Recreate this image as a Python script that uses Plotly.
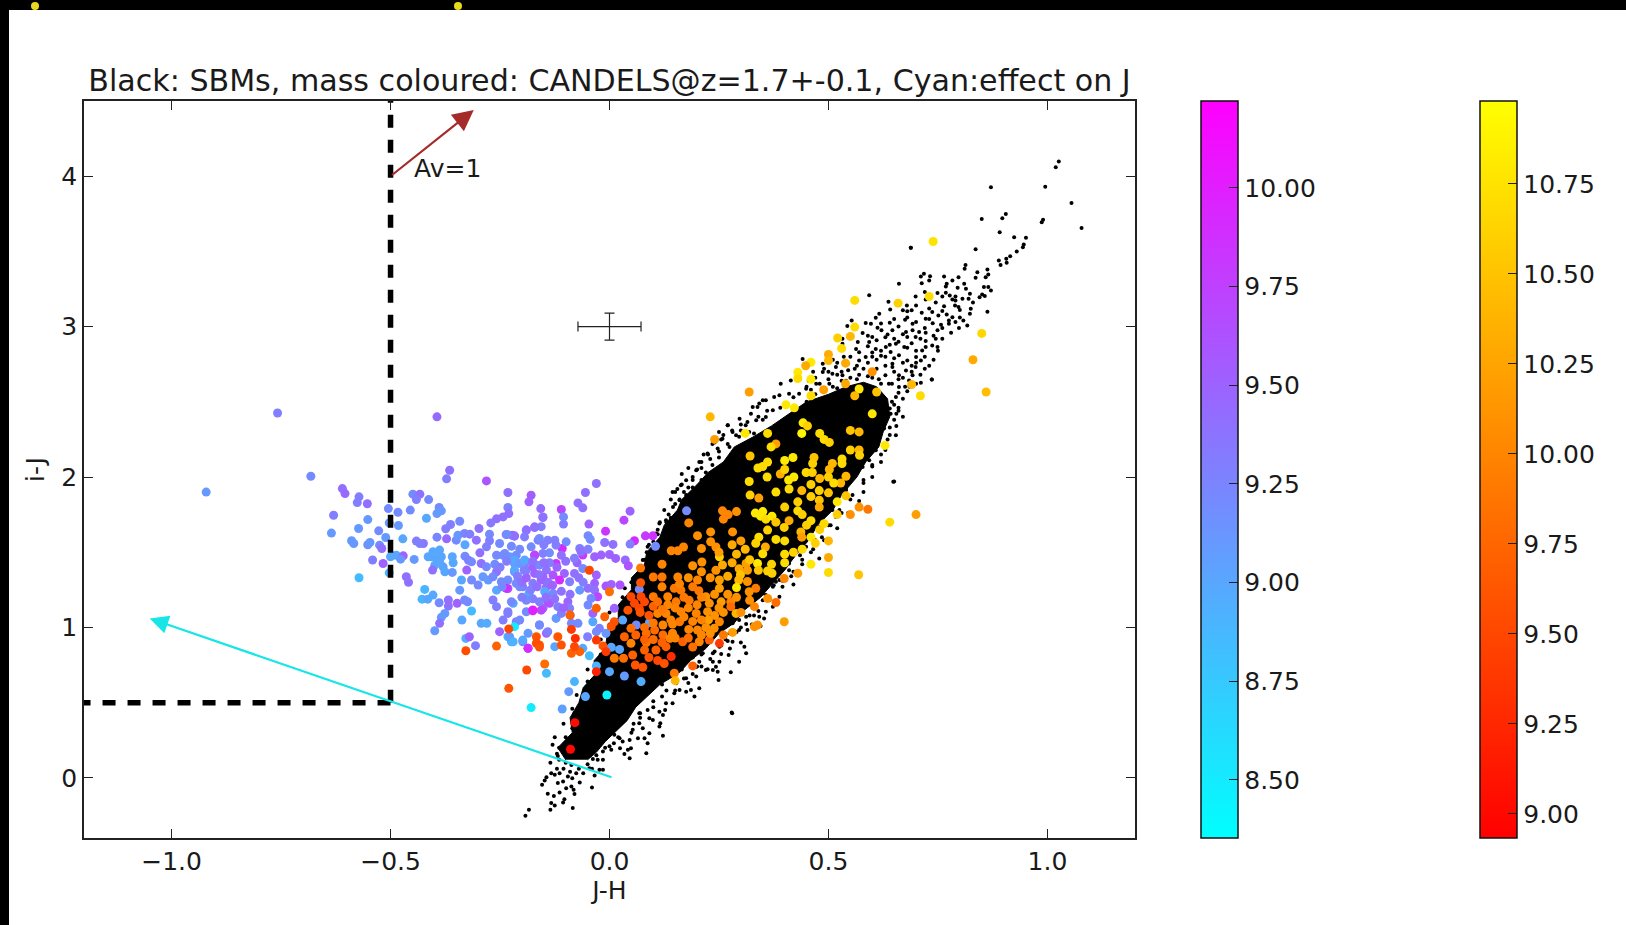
import plotly.graph_objects as go

# Solid, fully overplotted core of the SBM cloud (J-H, i-J)
core_x = [-.10,-.118,-.085,-.09,-.07,-.06,-.035,-.035,-.01,-.005,.02,.02,.05,.05,.08,.085,.115,.125,.155,.165,.2,.225,.26,.285,.33,.37,.41,.45,.50,.54,.58,.61,.635,.64,.625,.615,.585,.565,.53,.51,.475,.455,.425,.40,.375,.345,.31,.285,.25,.22,.185,.16,.115,.085,.06,.04,.01,-.01,-.03,-.05]
core_y = [.12,.2,.3,.4,.5,.6,.68,.78,.86,.95,1.05,1.15,1.25,1.33,1.42,1.5,1.6,1.68,1.78,1.85,1.95,2.03,2.1,2.2,2.27,2.34,2.42,2.5,2.55,2.60,2.63,2.60,2.52,2.40,2.3,2.2,2.1,2.0,1.88,1.78,1.68,1.58,1.48,1.38,1.30,1.2,1.12,1.03,.96,.86,.78,.7,.62,.54,.47,.38,.30,.24,.17,.12]

# Individually visible SBM points
sbm_tail = [(1.026,4.097),(1.019,4.059),(.871,3.926),(.995,3.93),(1.055,3.822),(1.078,3.656),(.905,3.749),(.897,3.72),(.85,3.716),(.99,3.71),(.987,3.694),(.891,3.628),(.924,3.594),(.951,3.59),(.946,3.546),(.944,3.528),(.93,3.50),(.836,3.515),(.915,3.468),(.906,3.451),(.889,3.44),(.907,3.425),(.893,3.41),(.688,3.524),(.813,3.41),(.811,3.384),(.863,3.38),(.84,3.362),(.865,3.347),(.859,3.329),(.836,3.325),(.764,3.333),(.797,3.329),(.783,3.306),(.718,3.351),(.711,3.333),(.732,3.335),(.73,3.307),(.713,3.289),(.77,3.285),(.768,3.267),(.81,3.285),(.661,3.285),(.855,3.263),(.865,3.263),(.871,3.24),(.768,3.225),(.795,3.258),(.814,3.251),(.593,3.209),(.699,3.20),(.851,3.214),(.845,3.196),(.857,3.203),(.823,3.218),(.82,3.185),(.777,3.207),(.783,3.181),(.637,3.165),(.722,3.181),(.749,3.223),(.806,3.185),(.79,3.174),(.789,3.141),(.797,3.13),(.679,3.141),(.641,3.114),(.67,3.108),(.68,3.102),(.69,3.108),(.713,3.092),(.764,3.135),(.737,3.097),(.76,3.103),(.751,3.074),(.825,3.119),(.823,3.085),(.863,3.099),(.616,3.085),(.608,3.059),(.553,3.041),(.722,3.052),(.783,3.063),(.775,3.041),(.79,3.03),(.808,3.041),(.64,3.026),(.675,3.045),(.692,3.019),(.543,3.004),(.585,3.024),(.597,3.019),(.612,2.993),(.621,2.975),(.738,3.023),(.757,3.012),(.749,2.975),(.775,3.019),(.817,3.008),(.798,2.99),(.646,2.975),(.635,2.948),(.677,2.964),(.692,2.975),(.707,2.964),(.722,2.96),(.578,2.957),(.6,2.931),(.68,2.931),(.699,2.931),(.745,2.919),(.532,2.919),(.567,2.897),(.593,2.897),(.631,2.864),(.654,2.886),(.673,2.864),(.722,2.904),(.737,2.875),(.532,2.886),(.563,2.851),(.608,2.851),(.642,2.831),(.714,2.842),(.722,2.864),(.749,2.864),(.6,2.828),(.62,2.806),(.661,2.809),(.7,2.798),(.711,2.775),(.585,2.798),(.57,2.775),(.441,2.784),(.544,2.753),(.517,2.731),(.487,2.753),(.646,2.753),(.68,2.775),(.736,2.649),(.711,2.627),(.646,2.731),(.677,2.709),(.699,2.731),(.391,2.62),(.414,2.642),(.388,2.543),(.376,2.532),(.487,2.698),(.509,2.687),(.532,2.676),(.63,2.676),(.661,2.676),(.692,2.676),(.638,2.62),(.661,2.598),(.684,2.642),(.472,2.62),(.502,2.62),(.449,2.587),(.433,2.554),(.41,2.554),(.654,2.532),(.642,2.42),(.64,2.455),(.63,2.488),(.357,2.51),(.327,2.466),(.35,2.51),(.342,2.488),(.627,2.322),(.654,2.278),(.6,2.211),(.585,2.122),(.611,2.256),(.297,2.388),(.323,2.421),(.311,2.344),(.27,2.344),(.281,2.3),(.258,2.255),(.289,2.278),(.319,2.3),(.335,2.377),(.357,2.399),(.373,2.444),(.62,2.62),(.60,2.66),(.57,2.68),(.55,2.66),(.53,2.64),(.58,2.72),(.61,2.72),(.66,2.65),(.45,2.50),(.42,2.45),(.40,2.48),(.47,2.55),(.49,2.58),(.52,2.59)]
sbm_foot = [(-.192,-.252),(-.184,-.212),(-.135,-.212),(-.084,-.201),(-.133,-.168),(-.125,-.184),(-.106,-.164),(-.103,-.142),(-.141,-.106),(-.127,-.12),(-.114,-.097),(-.08,-.108),(-.082,-.08),(-.087,-.058),(-.099,-.069),(-.04,-.064),(-.154,-.046),(-.148,-.018),(-.118,-.035),(-.106,-.024),(-.068,-.031),(-.144,.004),(-.133,.031),(-.125,.02),(-.114,.031),(-.095,.009),(-.085,-.002),(-.076,.031),(-.034,.015),(-.023,.053),(-.015,.053),(-.046,.064),(-.118,.146),(-.087,.086),(-.038,.126),(-.027,.12),(-.015,.12),(.046,.131),(.034,.159),(.084,.164),(.024,.197),(.042,.186),(.049,.197),(.004,.186),(-.015,.175),(.03,.241),(.046,.252),(.065,.263),(.087,.23),(.08,.263),(.091,.297),(.122,.279),(.114,.341),(.116,.363),(.076,.33),(.099,.385),(.091,.396),(.122,.418),(.114,.44),(.127,.451),(.068,.363),(.053,.319),(.023,.263),(.011,.286),(.068,.429),(.087,.451),(.144,.496),(.129,.496),(.148,.562),(.194,.54),(.205,.595),(.186,.584),(.175,.573),(.16,.584),(.279,.434),(.249,.651),(.277,.702),(.224,.722),(.236,.717),(.296,.772),(.247,.706),(.198,.673),(.175,.662),(.152,.629),(-.10,.10),(-.12,.16),(-.07,.06),(-.05,.09),(-.03,.15),(-.01,.20),(.01,.23),(.05,.30),(.07,.40),(.10,.47),(.12,.54),(-.115,.20),(-.10,.27),(-.085,.33),(-.08,.43),(-.065,.50),(-.05,.56)]
sbm_right = [(.308,.872),(.312,.828),(.272,.817),(.255,.823),(.251,.772),(.236,.772),(.243,.739),(.22,.717),(.205,.772),(.198,.739),(.182,.806),(.213,.828),(.236,.828),(.281,.905),(.315,.983),(.312,1.022),(.357,1.104),(.342,1.071),(.353,1.06),(.312,1.071),(.296,1.049),(.281,1.027),(.373,1.138),(.388,1.204),(.42,1.286),(.388,1.315),(.373,1.27),(.35,1.226),(.648,1.968),(.479,1.459),(.517,1.735),(.547,1.979),(.578,2.067),(.593,2.112),(.612,2.289),(.623,2.377),(.639,2.421),(.585,2.255),(.608,2.178),(.54,1.912),(.555,2.0),(.509,1.78),(.479,1.669),(.449,1.536),(.418,1.47),(.41,1.425),(.388,1.359),(.38,1.304),(.357,1.215),(.334,1.138),(.296,.983),(.274,.961),(.251,.872),
 (.09,.60),(.12,.62),(.15,.58),(.18,.63),(.14,.70),(.165,.72),(.19,.69),(.21,.74),(.19,.80),(.21,.82),(.23,.79),(.21,.90),(.23,.92),(.255,.88),(.27,.91),(.25,1.0),(.27,1.02),(.29,.97),(.28,1.10),(.30,1.12),(.32,1.08),(.34,1.11),(.31,1.20),(.33,1.22),(.35,1.18),(.345,1.30),(.36,1.32),(.375,1.28),(.395,1.31),(.37,1.40),(.39,1.42),(.41,1.38),(.40,1.50),(.42,1.52),(.435,1.48),(.43,1.60),(.45,1.62),(.47,1.58),(.46,1.70),(.48,1.72),(.50,1.68),(.49,1.80),(.505,1.82),(.525,1.78),(.52,1.90),(.54,1.92),(.555,1.88),(.54,2.0),(.56,2.02),(.58,1.98),(.56,2.10),(.58,2.12),(.60,2.08),(.59,2.20),(.61,2.22),(.63,2.18),(.60,2.30),(.62,2.32),(.64,2.28),(.655,2.34),(.67,2.40),(.66,2.46),(.645,2.50),(.58,1.90),(.60,2.0),(.62,2.10),(.44,1.42),(.46,1.50),(.49,1.58),(.52,1.66),(.545,1.76),(.57,1.84),(.325,1.02),(.345,1.01),(.30,.90),(.275,.86),(.415,1.34),(.44,1.55)]
sbm_left = [(.27,2.344),(.315,2.366),(.338,2.466),(.296,2.267),(.274,2.2),(.247,2.189),(.224,2.156),(.205,2.10),(.198,2.045),(.175,1.979),(.163,1.946),(.144,1.901),(.16,1.846),(.129,1.713),(.114,1.691),(.106,1.625),(.087,1.536),(.076,1.448),(.076,1.37),(.065,1.293),(.053,1.204),(.03,1.093),(.015,.983),(0,.85),(-.008,.784),(-.015,.717),(-.03,.629),
 (.30,2.31),(.33,2.29),(.25,2.30),(.26,2.28),(.24,2.23),(.225,2.15),(.25,2.13),(.21,2.10),(.235,2.08),(.20,2.05),(.22,2.03),(.19,2.0),(.21,1.98),(.165,1.95),(.19,1.93),(.15,1.90),(.175,1.88),(.16,1.85),(.18,1.83),(.145,1.80),(.135,1.75),(.15,1.73),(.115,1.70),(.11,1.65),(.125,1.63),(.10,1.60),(.09,1.55),(.11,1.53),(.085,1.50),(.08,1.45),(.07,1.39),(.05,1.30),(.04,1.19),(.03,1.14),(.02,1.05),(.01,.93),(.0,.80),(-.02,.70),(-.035,.57),(-.05,.47),(.34,2.40),(.36,2.44),(.30,2.35),(.28,2.31)]
sbm_extra = [(.45,2.60),(.47,2.66),(.50,2.70),(.52,2.76),(.55,2.80),(.57,2.83),(.59,2.87),(.56,2.72),(.53,2.70),(.60,2.80),(.62,2.84),(.64,2.88),(.66,2.90),(.68,2.86),(.70,2.84),(.72,2.80),(.74,2.78),(.70,2.76),(.72,2.72),(.69,2.70),(.71,2.68),(.73,2.74),(.75,2.84),(.76,2.92),(.78,2.96),(.74,2.94),(.71,2.92),(.69,2.89),(.67,2.95),(.65,2.92),(.63,2.93),(.61,2.91),(.59,2.94),(.66,3.0),(.70,3.03),(.73,3.05),(.77,3.08),(.80,3.11),(.83,3.16),(.80,3.06),(.76,2.99),(.72,2.99),(.68,3.06),(.65,3.05),(.62,3.02),(.745,3.16),(.73,3.12),(.70,3.14),(.66,3.16),(.79,3.2),(.76,3.2),(.72,3.23),(.70,2.62),(.68,2.57),(.67,2.52),(.685,2.60),(.66,2.44),(.65,2.38),(.64,2.33),(.635,2.25),(.62,2.15),(.60,2.07),(.58,1.96),(.55,1.85),(.53,1.76),(.505,1.68),(.485,1.60),(.465,1.52),(.44,1.45),(.42,1.37),(.395,1.27),(.365,1.18),(.33,1.08),(.30,1.0),(.265,.92),(.24,.84),(.20,.74),(.17,.66),(.13,.58),(.10,.51),(.07,.43),(.055,.36),(.02,.27),(.0,.21),
 (.10,1.57),(.11,1.62),(.13,1.70),(.14,1.73),(.15,1.82),(.17,1.90),(.18,1.93),(.19,1.98),(.21,2.06),(.23,2.12),(.25,2.17),(.27,2.22),(.31,2.29),(.35,2.38),(.39,2.46),(.42,2.53),(.46,2.58),(.07,1.40),(.06,1.33),(.035,1.26),(.03,1.2),(.0,1.1),(.0,1.02),(-.02,.92),(-.02,.82),(-.05,.72),(-.05,.64),(-.075,.55),(-.085,.46),(-.105,.36),(-.125,.27),(-.13,.22),(-.115,.12),(-.105,.06),(-.09,.04),(-.06,.03),(-.04,.06),(-.12,.06),(-.135,.10),(.125,1.78),(.14,1.85),(.155,1.92),(.165,2.02),(.18,2.06),(.235,2.22),(.215,2.15),(.255,2.25),
 (.51,2.60),(.54,2.64),(.565,2.65),(.59,2.67),(.615,2.65),(.645,2.62),(.66,2.56),(.65,2.48),(.655,2.42),(.48,2.62),(.50,2.65),(.52,2.68),(.545,2.71),(.565,2.74),(.59,2.76),(.61,2.78),(.63,2.74),(.65,2.70),(.67,2.66),(.675,2.60),(.63,2.80),(.65,2.79),(.67,2.76),(.69,2.74),(.535,2.80),(.51,2.78),(.49,2.72),(.465,2.70),(.455,2.64)]
sbm_stray = [(.28,.43),(.65,1.97),(.736,2.649),(.688,3.524)]
sbm_points = sbm_tail + sbm_foot + sbm_right + sbm_left + sbm_extra + sbm_stray
sbm_x = [p[0] for p in sbm_points]
sbm_y = [p[1] for p in sbm_points]

# CANDELS, lower masses: (J-H, i-J, log mass)
cool_points = [(-.758,2.426,9.3),(-.394,2.40,9.45),(-.682,2.005,9.2),(-.921,1.90,9.1),(-.61,1.923,9.4),(-.604,1.89,9.45),(-.572,1.868,9.3),(-.576,1.83,9.3),(-.553,1.822,9.4),(-.63,1.746,9.3),(-.552,1.717,9.1),(-.573,1.658,9.1),(-.635,1.627,9.1),(-.527,1.642,9.2),(-.505,1.79,9.2),(-.483,1.766,9.2),(-.449,1.886,9.2),(-.433,1.886,9.4),(-.441,1.85,9.3),(-.413,1.85,9.2),(-.455,1.78,9.2),(-.389,1.797,9.2),(-.384,1.775,9.1),(-.394,1.757,9.1),(-.418,1.726,9.0),(-.365,2.045,9.4),(-.372,1.988,9.3),(-.281,1.974,9.6),(-.232,1.897,9.4),(-.179,1.879,9.55),(-.184,1.835,9.5),(-.232,1.797,9.25),(-.23,1.757,9.4),(-.243,1.735,9.4),(-.258,1.722,9.4),(-.271,1.695,9.35),(-.157,1.79,9.45),(-.152,1.735,9.4),(-.156,1.67,9.3),(-.171,1.664,9.4),(-.19,1.647,9.5),(-.222,1.613,9.5),(-.298,1.658,9.4),(-.342,1.706,9.2),(-.363,1.684,9.3),(-.374,1.656,9.3),(-.503,1.695,9.1),(-.482,1.678,9.1),(-.511,1.598,9.1),(-.472,1.589,9.0),(-.589,1.576,9.1),(-.584,1.558,9.1),(-.552,1.55,9.15),(-.547,1.565,9.1),(-.525,1.547,9.2),(-.52,1.525,9.4),(-.541,1.448,9.3),(-.517,1.425,9.5),(-.5,1.47,9.0),(-.487,1.48,9.0),(-.471,1.476,9.5),(-.477,1.454,9.1),(-.446,1.452,9.1),(-.572,1.33,8.85),(-.503,1.363,8.9),(-.464,1.337,9.4),(-.459,1.30,9.4),(-.441,1.574,9.3),(-.425,1.558,9.35),(-.433,1.558,9.3),(-.394,1.60,9.25),(-.372,1.589,9.45),(-.35,1.58,9.2),(-.346,1.613,9.1),(-.331,1.625,9.25),(-.319,1.62,9.3),(-.304,1.58,9.4),(-.33,1.55,9.0),(-.274,1.62,9.2),(-.274,1.576,9.3),(-.251,1.558,9.2),(-.236,1.618,9.2),(-.217,1.607,9.5),(-.224,1.54,9.2),(-.281,1.536,9.3),(-.296,1.496,9.4),(-.403,1.503,9.0),(-.388,1.514,9.0),(-.407,1.47,8.95),(-.395,1.459,9.0),(-.414,1.47,9.0),(-.384,1.47,9.0),(-.399,1.414,9.0),(-.38,1.403,9.05),(-.388,1.436,9.0),(-.376,1.37,9.0),(-.404,1.381,9.4),(-.359,1.47,9.0),(-.357,1.43,9.0),(-.359,1.366,9.1),(-.33,1.474,9.2),(-.322,1.447,9.3),(-.315,1.436,9.2),(-.326,1.381,9.5),(-.293,1.425,9.4),(-.281,1.403,9.2),(-.258,1.37,9.4),(-.262,1.42,9.2),(-.258,1.48,9.2),(-.243,1.48,9.2),(-.228,1.47,9.1),(-.213,1.48,9.2),(-.217,1.425,9.1),(-.217,1.37,9.2),(-.19,1.436,9.2),(-.19,1.381,9.3),(-.171,1.48,9.6),(-.175,1.403,9.5),(-.163,1.58,9.3),(-.152,1.492,9.3),(-.144,1.381,9.4),(-.289,1.337,9.1),(-.277,1.315,9.1),(-.266,1.337,9.2),(-.247,1.304,9.2),(-.258,1.248,9.0),(-.232,1.259,9.6),(-.232,1.315,9.2),(-.213,1.293,9.2),(-.198,1.27,9.3),(-.175,1.293,9.3),(-.156,1.315,9.5),(-.144,1.27,9.4),(-.338,1.315,9.0),(-.315,1.315,9.2),(-.30,1.282,9.2),(-.422,1.253,8.9),(-.403,1.215,9.0),(-.428,1.188,8.9),(-.415,1.188,9.0),(-.389,1.164,9.2),(-.368,1.182,9.4),(-.368,1.142,9.4),(-.376,1.093,9.1),(-.384,1.067,9.1),(-.399,.978,9.1),(-.388,1.027,9.4),(-.348,1.16,9.5),(-.331,1.182,9.2),(-.324,1.171,9.2),(-.342,1.248,9.1),(-.315,1.109,8.85),(-.337,1.049,9.0),(-.293,1.027,9.0),(-.28,1.027,8.95),(-.328,.927,8.95),(-.32,.938,9.5),(-.306,.879,9.3),(-.266,1.182,9.3),(-.258,1.138,9.3),(-.243,1.049,9.3),(-.251,.972,9.5),(-.232,1.104,9.3),(-.22,1.16,9.0),(-.213,1.038,9.3),(-.19,1.104,9.2),(-.175,1.116,10.0),(-.152,1.127,9.5),(-.141,1.171,9.6),(-.217,1.005,8.5),(-.232,.938,8.9),(-.224,.905,8.9),(-.186,.961,9.1),(-.198,.905,9.2),(-.186,.861,9.7),(-.16,1.016,9.0),(-.144,.961,9.5),(-.144,.695,8.85),(-.179,.467,8.5),
 (-.03,1.957,9.4),(-.055,1.897,9.4),(-.072,1.828,9.4),(-.061,1.795,9.4),(.047,1.773,9.5),(.033,1.713,9.7),(-.047,1.687,9.5),(-.11,1.784,9.7),(-.152,1.731,9.4),(-.105,1.735,9.2),(-.105,1.687,9.3),(-.009,1.64,9.85),(-.049,1.61,9.2),(-.044,1.585,9.2),(-.011,1.565,9.4),(.008,1.552,9.4),(.082,1.609,9.8),(.099,1.609,9.85),(.057,1.576,9.9),(.047,1.554,9.3),(.105,1.54,9.2),(.176,1.775,9.2),(-.108,1.525,9.9),(-.068,1.525,9.3),(-.125,1.58,9.3),(-.141,1.58,9.3),(-.16,1.591,9.2),(-.099,1.569,9.2),(-.171,1.669,9.4),(-.19,1.647,9.4),(-.217,1.609,9.4),(-.234,1.618,9.2),(-.194,1.602,9.3),(-.179,1.536,9.2),(-.137,1.496,9.2),(-.122,1.547,9.3),(-.061,1.481,9.8),(-.065,1.503,9.4),(-.049,1.52,9.3),(-.034,1.47,9.5),(-.019,1.481,9.5),(0,1.485,9.5),(.014,1.459,9.5),(.036,1.448,9.45),(.043,1.41,9.6),(-.074,1.43,9.5),(-.171,1.481,9.7),(-.122,1.425,9.85),(-.239,1.492,9.2),(-.217,1.448,9.0),(-.217,1.381,9.0),(-.205,1.425,9.1),(-.194,1.448,9.0),(-.16,1.414,9.2),(-.137,1.43,9.3),(-.103,1.359,9.5),(-.08,1.359,9.4),(-.061,1.392,9.2),(-.03,1.348,9.5),(-.034,1.293,9.5),(-.008,1.275,9.6),(.004,1.286,9.5),(.024,1.282,9.6),(.068,1.253,9.2),(-.171,1.359,9.5),(-.152,1.337,9.5),(-.129,1.348,9.6),(-.114,1.315,9.9),(-.091,1.304,9.3),(-.068,1.248,9.1),(-.049,1.26,9.4),(-.034,1.248,9.4),(-.027,1.204,9.7),(-.042,1.193,9.2),(-.184,1.226,9.0),(-.205,1.27,9.2),(-.236,1.26,9.9),(-.224,1.171,9.2),(-.148,1.237,9.0),(-.129,1.226,9.2),(-.095,1.171,9.5),(-.137,1.16,9.6),(-.118,1.138,9.3),(-.156,1.115,9.7),(-.175,1.111,10.0),(-.232,1.093,9.3),(-.205,1.049,9.2),(-.122,1.06,9.1),(-.11,1.093,9.3),(-.091,1.127,9.3),(-.049,1.149,9.2),(-.038,1.093,9.5),(.011,1.127,9.5),(-.072,1.027,9.2),(-.087,1.027,9.2),(-.038,1.038,9.0),(-.008,.961,9.1),(-.023,.994,9.3),(.03,1.049,9.0),(.061,1.016,9.2),(.091,1.031,9.0),(-.228,.938,9.1),(-.22,.905,8.9),(-.141,.972,9.3),(-.16,1.016,9.2),(-.198,.916,9.0),(-.186,.861,9.9),(-.125,.872,9.0),(-.061,.861,9.0),(-.05,.938,9.3),(-.03,.972,9.2),(-.046,.812,8.85),(-.03,.744,8.9),(.004,.868,9.0),(.023,.854,9.0),(0,.706,9.0),(.034,.677,9.1),(.072,.64,8.95),(-.006,.551,8.45),(-.08,.64,8.9),(-.093,.573,9.1),(-.055,.54,9.0),(-.108,.458,9.05),
 (-.21,1.34,9.3),(-.20,1.30,9.4),(-.19,1.33,9.5),(-.18,1.25,9.3),(-.165,1.27,9.4),(-.16,1.35,9.4),(-.15,1.43,9.4),(-.14,1.30,9.4),(-.13,1.28,9.5),(-.12,1.40,9.5),(-.11,1.24,9.4),(-.10,1.44,9.4),(-.09,1.22,9.4),(-.08,1.46,9.3),(-.07,1.33,9.4),(-.06,1.30,9.3),(-.175,1.19,9.3),(-.19,1.18,9.2),(-.16,1.17,9.3),(-.20,1.20,9.3),(-.245,1.27,9.2),(-.25,1.40,9.3),(-.235,1.44,9.3),(-.205,1.52,9.2),(-.15,1.55,9.3),(-.11,1.48,9.4),(-.175,1.44,9.4),(-.195,1.38,9.3),(-.145,1.20,9.4),(-.125,1.19,9.4),(-.105,1.13,9.5),(-.09,1.08,9.4)]
cool_x = [p[0] for p in cool_points]
cool_y = [p[1] for p in cool_points]
cool_mass = [p[2] for p in cool_points]

# CANDELS, higher masses: (J-H, i-J, log mass)
autumn_points = [(.230,2.40,10.4),(.240,2.25,10.2),(.403,2.48,10.8),(.422,2.46,10.8),(.310,2.29,10.8),(.361,2.29,10.7),(.380,2.22,10.2),(.369,2.20,10.7),(.321,2.14,10.5),(.442,2.36,10.8),(.452,2.34,10.6),(.439,2.29,10.9),(.480,2.29,10.7),(.490,2.25,10.7),(.502,2.23,10.6),(.550,2.31,10.5),(.570,2.30,10.4),(.600,2.42,10.8),(.629,2.21,10.8),(.550,2.18,10.6),(.570,2.18,10.4),(.571,2.145,10.6),(.531,2.12,10.7),(.531,2.09,10.7),(.400,2.11,10.8),(.419,2.13,10.8),(.361,2.10,10.7),(.350,2.07,10.7),(.339,2.06,10.7),(.467,2.13,10.5),(.464,2.09,10.6),(.509,2.09,10.4),(.502,2.05,10.4),(.449,2.03,10.7),(.463,2.03,10.6),(.390,2.02,10.3),(.421,2.00,10.8),(.409,1.98,10.8),(.319,1.97,10.7),(.480,1.99,10.4),(.540,2.005,10.4),(.528,1.96,10.4),(.512,1.96,10.7),(.410,1.92,10.7),(.321,1.88,10.6),(.341,1.86,10.2),(.439,1.91,10.4),(.479,1.91,10.6),(.460,1.87,10.6),(.500,1.895,10.5),(.540,1.875,10.5),(.520,1.835,10.8),(.479,1.846,10.5),(.430,1.835,10.6),(.430,1.775,10.7),(.479,1.80,10.3),(.333,1.76,10.8),(.350,1.77,10.8),(.345,1.74,10.8),(.357,1.72,10.7),(.371,1.74,10.8),(.258,1.775,10.0),(.290,1.77,10.1),(.271,1.75,10.0),(.260,1.72,10.0),(.570,1.80,10.1),(.590,1.785,9.9),(.550,1.75,10.1),(.640,1.70,10.7),(.490,1.69,10.7),(.410,1.71,10.3),(.460,1.71,10.7),(.399,1.665,10.6),(.450,1.68,10.6),(.437,1.635,10.4),(.361,1.647,10.6),(.181,1.695,10.0),(.231,1.635,10.1),(.281,1.635,10.1),(.201,1.61,10.1),(.439,1.60,10.2),(.460,1.60,10.8),(.500,1.575,10.4),(.341,1.60,10.7),(.380,1.585,10.7),(.400,1.575,10.7),(.300,1.575,10.2),(.334,1.56,10.6),(.231,1.57,10.1),(.243,1.535,10.1),(.141,1.51,10.0),(.169,1.535,10.0),(.156,1.51,10.0),(.210,1.525,10.1),(.356,1.535,10.3),(.350,1.49,10.7),(.400,1.487,10.7),(.290,1.487,10.4),(.251,1.47,10.6),(.120,1.42,10.0),(.500,1.465,10.3),(.460,1.42,10.8),(.500,1.365,10.7),(.569,1.35,10.5),(.338,1.425,10.8),(.312,1.425,10.2),(.258,1.415,10.3),(.243,1.38,10.1),(.211,1.435,10.1),(.190,1.41,10.1),(.296,1.39,10.3),(.315,1.38,10.2),(.361,1.375,10.6),(.371,1.36,10.6),(.430,1.36,10.2),(.399,1.325,10.0),(.299,1.35,10.5),(.295,1.315,10.4),(.071,1.395,9.9),(.100,1.335,9.9),(.120,1.335,9.9),(.156,1.335,10.0),(.120,1.27,10.0),(.251,1.315,10.2),(.251,1.26,10.2),(.201,1.315,10.0),(.315,1.305,10.1),(.334,1.26,9.9),(.290,1.265,10.8),(.319,1.237,10.1),(.148,1.26,9.9),(.163,1.248,9.9),(.190,1.27,9.9),(.204,1.244,9.9),(.071,1.297,9.6),(.100,1.204,9.9),(.049,1.204,9.5),(.057,1.16,9.5),(.072,1.204,9.5),(.080,1.17,9.5),(.068,1.127,9.5),(.042,1.115,9.6),(.133,1.204,10.0),(.133,1.15,10.0),(.152,1.17,9.9),(.182,1.18,9.9),(.220,1.204,10.1),(.228,1.16,10.1),(.255,1.17,10.2),(.277,1.17,10.0),(.361,1.193,10.1),(.380,1.166,9.8),(.331,1.138,10.0),(.277,1.138,9.8),(.224,1.105,10.1),(.226,1.05,10.2),(.129,1.093,10.0),(.163,1.105,10.0),(.198,1.093,10.0),(.110,1.093,10.0),(.399,1.038,10.2),(.289,1.093,10.4),(.338,1.016,10.1),(.331,1.005,10.1),(.251,1.038,10.0),(.122,1.016,10.0),(.160,1.038,9.9),(.144,1.022,10.0),(.181,.987,10.0),(.201,.983,10.0),(.239,.994,10.1),(.281,.967,10.2),(.049,.994,9.8),(.034,.938,9.7),(.084,.96,9.8),(.103,.983,9.8),(.122,.95,9.8),(.138,.927,10.0),(.049,.894,10.0),(.084,.899,9.9),(.144,.961,10.0),(.167,.905,9.7),(.205,.905,10.0),(.228,.916,9.7),(.251,.894,9.4),(.26,.95,9.9),(.106,.85,9.7),(.129,.872,9.7),(.190,.744,9.7),(.141,.806,9.3),(.032,.795,9.8),(.053,.817,9.7),(.011,.795,9.9),(.059,.75,9.6),(.076,.735,9.6),(.148,.695,9.9),(.150,.646,10.4),
 (0,1.237,9.8),(-.03,1.127,9.7),(-.09,1.082,9.7),(-.011,1.071,9.7),(.011,1.038,9.6),(.004,1.005,9.6),(-.087,.987,9.4),(-.078,.927,9.3),(-.03,.916,9.4),(-.015,.877,9.6),(-.008,.839,9.4),(-.046,1.38,9.5),(-.16,.883,9.6),(-.118,.938,9.6),(-.11,.883,9.6),(-.087,.828,9.7),(-.068,.839,9.7),(-.08,.872,9.5),(-.148,.757,9.8),(-.189,.717,9.5),(-.23,.595,9.6),(-.03,.706,9.2),(-.167,.938,9.6),(-.328,.845,9.55),(-.258,.876,9.7),(-.23,.99,9.5),(-.167,.895,9.55),(-.16,.87,9.6),(-.079,.367,9.03),(-.089,.19,9.0),
 (.739,3.566,10.75),(.560,3.174,10.7),(.659,3.156,10.6),(.730,3.20,10.7),(.560,2.997,10.7),(.521,2.924,10.6),(.550,2.935,10.4),(.530,2.855,10.7),(.500,2.815,10.3),(.500,2.775,10.4),(.460,2.763,10.8),(.448,2.74,10.3),(.539,2.757,10.3),(.43,2.696,10.8),(.43,2.655,10.7),(.46,2.65,10.8),(.319,2.565,10.2),(.60,2.70,10.1),(.539,2.62,10.3),(.489,2.58,10.2),(.57,2.585,10.8),(.56,2.54,10.4),(.61,2.565,10.5),(.69,2.615,10.4),(.71,2.54,10.7),(.85,2.955,10.65),(.83,2.78,10.3),(.86,2.565,10.45),(.46,2.54,10.7),(.70,1.75,10.2),
 (.07,1.10,9.6),(.09,1.08,9.6),(.10,1.14,9.7),(.11,1.17,9.8),(.12,1.12,9.9),(.15,1.13,10.0),(.17,1.20,9.9),(.18,1.13,10.0),(.20,1.15,10.0),(.21,1.20,10.0),(.24,1.22,10.1),(.27,1.22,10.1),(.14,1.05,10.0),(.17,1.07,10.0),(.19,1.04,10.0),(.21,1.05,10.0),(.24,1.08,10.1),(.26,1.10,10.1),(.10,1.03,9.9),(.08,1.0,9.8),(.06,.95,9.7),(.10,.92,9.8),(.12,.90,9.7),(.15,.93,10.0),(.18,.93,9.8),(.21,.95,10.0),(.23,.96,10.1),(.08,.85,9.7),(.09,.80,9.6),(.11,.78,9.5),(.125,.76,9.6),(.08,.92,9.7),(.19,.87,9.8),(.22,1.0,10.1),(.25,1.13,10.1),(.29,1.2,10.1),(.30,1.10,10.1),(.32,1.18,10.1),(.16,1.29,10.0),(.18,1.33,10.1),(.21,1.37,10.1),(.23,1.33,10.1),(.27,1.34,10.3),(.28,1.43,10.3),(.25,1.50,10.2),(.28,1.55,10.3),(.31,1.52,10.4),(.34,1.38,10.5),(.37,1.42,10.6),(.32,1.45,10.5),(.40,1.43,10.7),(.42,1.50,10.6),(.44,1.52,10.7),(.47,1.56,10.6),(.48,1.65,10.6),(.52,1.75,10.6),(.38,1.90,10.7),(.36,2.0,10.7),(.40,2.05,10.6),(.46,1.95,10.6),(.50,2.0,10.6),(.44,1.75,10.6),(.40,1.80,10.6),(.38,1.70,10.5)]
autumn_x = [p[0] for p in autumn_points]
autumn_y = [p[1] for p in autumn_points]
autumn_mass = [p[2] for p in autumn_points]

cool_scale = [[0, '#00ffff'], [1, '#ff00ff']]
autumn_scale = [[0, '#ff0000'], [1, '#ffff00']]
cool_ticks = [8.5, 8.75, 9.0, 9.25, 9.5, 9.75, 10.0]
autumn_ticks = [9.0, 9.25, 9.5, 9.75, 10.0, 10.25, 10.5, 10.75]
x_ticks = [-1.0, -0.5, 0.0, 0.5, 1.0]
y_ticks = [0, 1, 2, 3, 4]

W, H = 1626, 925
L, R, T, B = 84, 491, 101, 87
pw, ph = W - L - R, H - T - B
FONT = 'DejaVu Sans'
TXT = '#1a1a1a'

def colorbar(px_left, ticks):
    return dict(x=(px_left - L) / pw, xanchor='left', xpad=0, ypad=0, y=0.5, yanchor='middle',
                len=ph, lenmode='pixels', thickness=37, thicknessmode='pixels',
                outlinecolor='#111', outlinewidth=1.5, tickvals=ticks, tickformat='.2f',
                ticks='inside', ticklen=9, tickcolor='#222', tickwidth=1,
                tickfont=dict(family=FONT, size=25, color=TXT))

fig = go.Figure()
fig.add_trace(go.Scatter(x=core_x, y=core_y, mode='lines', fill='toself', fillcolor='black',
                         line=dict(color='black', width=1), hoverinfo='skip'))
fig.add_trace(go.Scatter(x=sbm_x, y=sbm_y, mode='markers', marker=dict(color='black', size=4)))
fig.add_trace(go.Scatter(x=cool_x, y=cool_y, mode='markers',
                         marker=dict(size=9, color=cool_mass, colorscale=cool_scale, cmin=8.353, cmax=10.22,
                                     line=dict(width=0), colorbar=colorbar(1201, cool_ticks))))
fig.add_trace(go.Scatter(x=autumn_x, y=autumn_y, mode='markers',
                         marker=dict(size=9, color=autumn_mass, colorscale=autumn_scale, cmin=8.933, cmax=10.98,
                                     line=dict(width=0), colorbar=colorbar(1480, autumn_ticks))))
fig.add_trace(go.Scatter(x=[-0.5, -0.5], y=[0.5, 4.5], mode='lines',
                         line=dict(color='black', width=5.5, dash='13px,12px')))
fig.add_trace(go.Scatter(x=[-0.5, -1.2], y=[0.5, 0.5], mode='lines',
                         line=dict(color='black', width=5.5, dash='13px,12px')))
fig.add_trace(go.Scatter(x=[0], y=[3], mode='markers', marker=dict(size=1, color='#222'),
                         error_x=dict(type='constant', value=0.072, color='#222', thickness=1.2, width=5),
                         error_y=dict(type='constant', value=0.09, color='#222', thickness=1.2, width=5)))

def px_shape(x0, y0, x1, y1, kind='rect', color='black'):
    return dict(type=kind, xref='paper', yref='paper',
                x0=(x0 - L) / pw, x1=(x1 - L) / pw,
                y0=(H - B - y0) / ph, y1=(H - B - y1) / ph,
                fillcolor=color, line=dict(width=0), layer='above')

fig.update_layout(
    width=W, height=H, showlegend=False, paper_bgcolor='white', plot_bgcolor='white',
    margin=dict(l=L, r=R, t=T, b=B, pad=0), font=dict(family=FONT, size=25, color=TXT),
    title=dict(text='Black: SBMs, mass coloured: CANDELS@z=1.7+-0.1, Cyan:effect on J',
               font=dict(family=FONT, size=30.1, color=TXT), x=0.5, xref='paper', xanchor='center',
               y=1, yref='paper', yanchor='bottom', pad=dict(b=10)),
    xaxis=dict(range=[-1.2, 1.2], tickvals=x_ticks, tickformat='.1f', ticks='inside', ticklen=9, tickcolor='#222',
               showline=True, linecolor='#222', linewidth=1.5, mirror='ticks', showgrid=False, zeroline=False,
               title=dict(text='J-H', standoff=3, font=dict(family=FONT, size=25, color=TXT))),
    yaxis=dict(range=[-0.4, 4.5], tickvals=y_ticks, ticks='inside', ticklen=9, tickcolor='#222',
               showline=True, linecolor='#222', linewidth=1.5, mirror='ticks', showgrid=False, zeroline=False,
               title=dict(text='i-J', standoff=10, font=dict(family=FONT, size=25, color=TXT))),
    annotations=[
        dict(x=-1.05, y=1.06, ax=0.008, ay=0, xref='x', yref='y', axref='x', ayref='y', text='', showarrow=True,
             arrowhead=2, arrowsize=1.7, arrowwidth=2.2, arrowcolor='#18e6e6'),
        dict(x=-0.31, y=4.44, ax=-0.5, ay=4.0, xref='x', yref='y', axref='x', ayref='y', text='', showarrow=True,
             arrowhead=2, arrowsize=1.9, arrowwidth=2.2, arrowcolor='#a52a2a'),
        dict(x=-0.45, y=4.05, xref='x', yref='y', text='Av=1', showarrow=False, xanchor='left', yanchor='middle',
             font=dict(family=FONT, size=25, color=TXT)),
    ],
    shapes=[px_shape(0, 0, W, 10), px_shape(0, 0, 9, H),
            px_shape(31, 2, 39, 10, 'circle', '#e8d820'), px_shape(454, 2, 462, 10, 'circle', '#e8d820')],
)

fig.write_html('out.html', config=dict(displayModeBar=False),
               post_script="document.body.style.margin='0';document.body.style.overflow='hidden';")
